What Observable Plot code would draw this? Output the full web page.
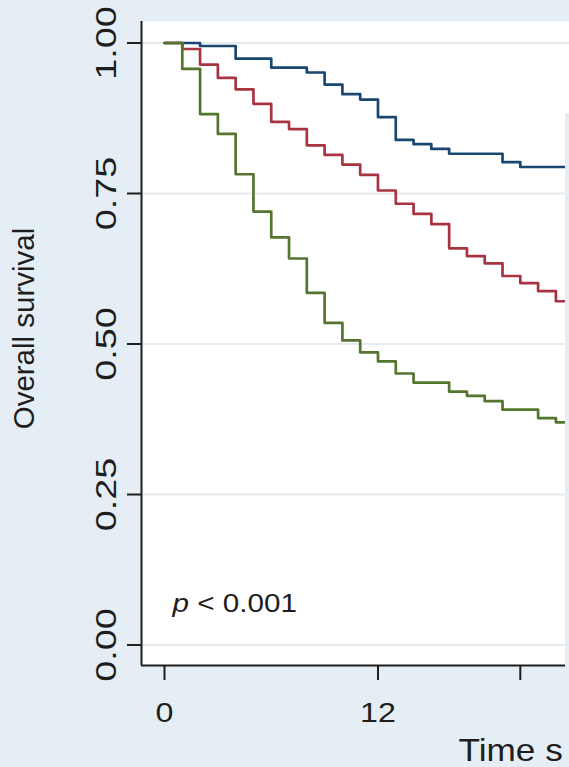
<!DOCTYPE html>
<html><head><meta charset="utf-8">
<script src="https://cdn.jsdelivr.net/npm/d3@7"></script>
<script src="https://cdn.jsdelivr.net/npm/@observablehq/plot@0.6"></script>
<style>
html,body{margin:0;padding:0;background:#e5eef4;}
#chart{width:569px;height:767px;overflow:hidden;}
</style>
</head><body><div id="chart"></div>
<script>
// ---- data ----
const groups = ["Group 1", "Group 2", "Group 3"];
const colors = ["#1a476f", "#a83442", "#55752f"];

const blueTime = [0, 2, 4, 6, 8, 9, 10, 11, 12, 13, 14, 15, 16, 19, 20, 23];
const blueSurv = [1.000, 0.995, 0.974, 0.959, 0.951, 0.931, 0.915, 0.906, 0.877, 0.839, 0.832, 0.824, 0.816, 0.802, 0.794, 0.794];

const redTime = [0, 1, 2, 3, 4, 5, 6, 7, 8, 9, 10, 11, 12, 13, 14, 15, 16, 17, 18, 19, 20, 21, 22, 23];
const redSurv = [1.000, 0.990, 0.964, 0.942, 0.923, 0.899, 0.869, 0.857, 0.830, 0.814, 0.798, 0.781, 0.755, 0.733, 0.716, 0.699, 0.659, 0.646, 0.634, 0.613, 0.601, 0.588, 0.571, 0.571];

const greenTime = [0, 1, 2, 3, 4, 5, 6, 7, 8, 9, 10, 11, 12, 13, 14, 16, 17, 18, 19, 21, 22, 23];
const greenSurv = [1.000, 0.957, 0.882, 0.849, 0.782, 0.720, 0.677, 0.642, 0.585, 0.535, 0.506, 0.486, 0.471, 0.451, 0.436, 0.421, 0.414, 0.405, 0.391, 0.377, 0.370, 0.370];

const yTicks = [0, 0.25, 0.5, 0.75, 1];
const xTicks = [0, 12, 20];
const xTickLabels = [0, 12];
const yTitle = "Overall survival";
const xTitle = "Time s";
const pSymbol = "p";
const pRest = " < 0.001";

// ---- build table ----
const series = [[blueTime, blueSurv], [redTime, redSurv], [greenTime, greenSurv]];
const rows = series.flatMap(([T, S], g) => T.map((t, i) => ({group: groups[g], time: t, surv: S[i]})));

const bg = "#e5eef4";
const gridColor = "#e4ecf1";
const ink = "#1e1e1e";
const xDomain = [-1.293, 22.765];
const yDomain = [-0.034, 1.0357];

// font sizes double as selectors for post-processing
const FS_YLAB = 29, FS_XLAB = 28, FS_YTITLE = 29.5, FS_XTITLE = 32, FS_P = 26;

const plot = Plot.plot({
  width: 569, height: 767,
  marginLeft: 141, marginRight: 0, marginTop: 21, marginBottom: 102,
  style: {fontFamily: "'Liberation Sans', Arial, sans-serif", background: bg, overflow: "hidden"},
  x: {domain: xDomain, axis: null, label: null},
  y: {domain: yDomain, axis: null, label: null},
  color: {domain: groups, range: colors},
  marks: [
    Plot.frame({fill: "white", stroke: null}),
    Plot.gridY(yTicks, {stroke: gridColor, strokeOpacity: 1, strokeWidth: 2}),
    Plot.line(rows, {x: "time", y: "surv", z: "group", stroke: "group", curve: "step-after", strokeWidth: 2.7, clip: true}),
    Plot.axisY(yTicks, {tickSize: 14, tickFormat: () => "", stroke: ink, strokeWidth: 2, label: null}),
    Plot.axisX(xTicks, {tickSize: 15, tickFormat: () => "", stroke: ink, strokeWidth: 2, label: null}),
    Plot.ruleX([xDomain[0]], {stroke: ink, strokeWidth: 2}),
    Plot.ruleY([yDomain[0]], {stroke: ink, strokeWidth: 2}),
    Plot.text(yTicks, {y: d => d, text: d => d3.format(".2f")(d), frameAnchor: "left", dx: -35, rotate: -90,
      fontSize: FS_YLAB, lineAnchor: "middle", textAnchor: "middle", fill: ink}),
    Plot.text(xTickLabels, {x: d => d, text: d => String(d), frameAnchor: "bottom", dy: 48,
      fontSize: FS_XLAB, lineAnchor: "middle", textAnchor: "middle", fill: ink}),
    Plot.text([yTitle], {text: d => d, frameAnchor: "left", dx: -117, dy: -15, rotate: -90,
      fontSize: FS_YTITLE, lineAnchor: "middle", textAnchor: "middle", fill: ink}),
    Plot.text([xTitle], {text: d => d, frameAnchor: "bottom-left", dx: 317, dy: 95,
      fontSize: FS_XTITLE, lineAnchor: "bottom", textAnchor: "start", fill: ink}),
    Plot.text([pSymbol + pRest], {text: d => d, frameAnchor: "bottom-left", dx: 31, dy: -54,
      fontSize: FS_P, lineAnchor: "bottom", textAnchor: "start", fill: ink})
  ]
});

document.getElementById("chart").append(plot);
const svg = d3.select(plot);
const sel = fs => svg.selectAll(`g[font-size="${fs}"] text`);

// italic p
sel(FS_P).each(function() {
  const el = d3.select(this);
  el.text("");
  el.append("tspan").attr("font-style", "italic").text(pSymbol);
  el.append("tspan").text(pRest);
});

function stretch(fs, k) {
  sel(fs).each(function() {
    const L = this.getComputedTextLength();
    this.setAttribute("textLength", L * k);
    this.setAttribute("lengthAdjust", "spacingAndGlyphs");
  });
}
stretch(FS_YLAB, 1.3);
stretch(FS_XLAB, 1.15);
stretch(FS_XTITLE, 1.1);
stretch(FS_P, 1.14);

// legend panel edge (cut off at right)
svg.append("rect").attr("x", 565).attr("y", 113).attr("width", 10).attr("height", 660).attr("fill", bg);
</script>
</body></html>
